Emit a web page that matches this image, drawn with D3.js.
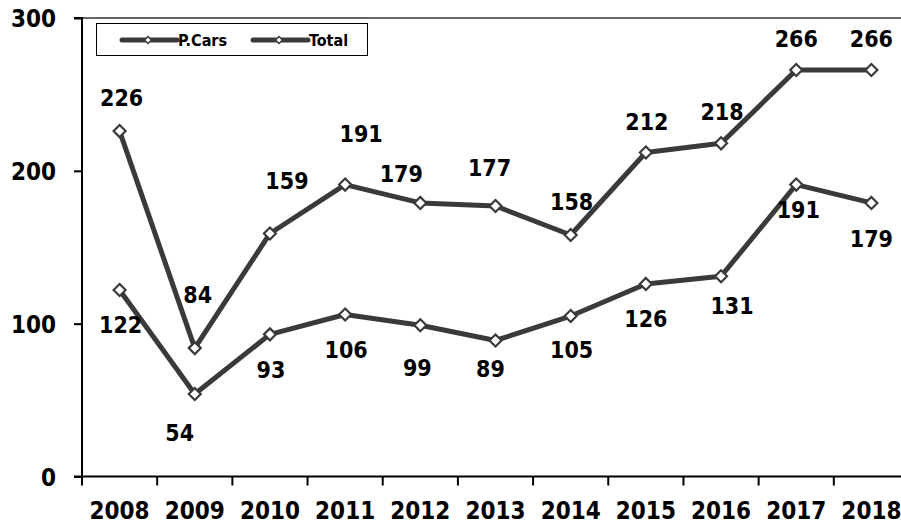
<!DOCTYPE html>
<html>
<head>
<meta charset="utf-8">
<script src="https://cdn.jsdelivr.net/npm/d3@7/dist/d3.min.js"></script>
<style>
  html, body { margin: 0; padding: 0; background: #fff; }
  svg { display: block; }
  text { font-family: "DejaVu Sans Condensed", "DejaVu Sans", sans-serif; font-weight: bold; fill: #000; }
</style>
</head>
<body>
<svg id="chart" width="901" height="525"></svg>
<script>
// ---- data ----
const years = ["2008","2009","2010","2011","2012","2013","2014","2015","2016","2017","2018"];
const pCars = [122, 54, 93, 106, 99, 89, 105, 126, 131, 191, 179];
const total = [226, 84, 159, 191, 179, 177, 158, 212, 218, 266, 266];
const yTicks = [0, 100, 200, 300];
const seriesNames = ["P.Cars", "Total"];

// ---- layout (label offsets relative to points, px) ----
const totalLabelOffsets = [[2,-33],[3,-53],[17,-53],[16,-51],[-19,-29],[-6,-38],[1,-33],[1,-31],[1,-32],[0,-31],[0,-31]];
const pCarsLabelOffsets = [[1,35],[-15,39],[1,35],[1,35],[-3,43],[-5,28],[1,34],[0,35],[11,29],[2,25],[0,36]];

(function () {
const svg = d3.select("#chart");
const mLeft = 82, mRight = 909, mTop = 18, mBottom = 476.5;
const lineColor = "#3a3a3a";

const x = d3.scaleBand().domain(years).range([mLeft, mRight]).paddingInner(0).paddingOuter(0);
const y = d3.scaleLinear().domain([0, 300]).range([mBottom, mTop]);
const cx = d => x(d) + x.bandwidth() / 2;

// top & right frame
svg.append("line").attr("x1", mLeft).attr("x2", mRight).attr("y1", mTop).attr("y2", mTop)
  .attr("stroke", "#333").attr("stroke-width", 1.5);
svg.append("line").attr("x1", mRight).attr("x2", mRight).attr("y1", mTop).attr("y2", mBottom)
  .attr("stroke", "#333").attr("stroke-width", 1.5);

// y axis
const yAxis = d3.axisLeft(y).tickValues(yTicks).tickSize(8).tickPadding(18).tickFormat(d3.format("d"));
const gy = svg.append("g").attr("transform", `translate(${mLeft},0)`).call(yAxis);
gy.select(".domain").attr("stroke", "#000").attr("stroke-width", 2).attr("d", `M-8,${mTop}H0V${mBottom}H-8`);
gy.selectAll(".tick line").attr("stroke", "#000").attr("stroke-width", 2);
gy.selectAll(".tick text").style("font-size", "24px").attr("dy", "0.36em").attr("x", -26);

// x axis
const xAxis = d3.axisBottom(x).tickSize(0).tickPadding(0);
const gx = svg.append("g").attr("transform", `translate(0,${mBottom})`).call(xAxis);
gx.select(".domain").attr("stroke", "#000").attr("stroke-width", 2).attr("d", `M${mLeft},0H${mRight}`);
gx.selectAll(".tick text").style("font-size", "24px").attr("y", 34).attr("dy", "0.36em");
// x tick marks at band boundaries
const bounds = years.map(d => x(d)).concat([mRight]);
svg.append("g").selectAll("line").data(bounds).join("line")
  .attr("x1", d => d).attr("x2", d => d).attr("y1", mBottom).attr("y2", mBottom + 9)
  .attr("stroke", "#000").attr("stroke-width", 2);

// lines
const line = d3.line().x((d, i) => cx(years[i])).y(d => y(d));
const series = [
  { name: "P.Cars", values: pCars, offsets: pCarsLabelOffsets },
  { name: "Total", values: total, offsets: totalLabelOffsets }
];
const diamond = s => `M0,${-s}L${s},0L0,${s}L${-s},0Z`;

series.forEach(s => {
  svg.append("path").datum(s.values).attr("d", line)
    .attr("fill", "none").attr("stroke", lineColor).attr("stroke-width", 5).attr("stroke-linejoin", "round");
  svg.append("g").selectAll("path").data(s.values).join("path")
    .attr("d", diamond(6))
    .attr("transform", (d, i) => `translate(${cx(years[i])},${y(d)})`)
    .attr("fill", "#fff").attr("stroke", lineColor).attr("stroke-width", 2.2);
  svg.append("g").selectAll("text").data(s.values).join("text")
    .attr("x", (d, i) => cx(years[i]) + s.offsets[i][0])
    .attr("y", (d, i) => y(d) + s.offsets[i][1])
    .attr("dy", "0.36em").attr("text-anchor", "middle")
    .style("font-size", "23px").text(d => d);
});

// legend
const lg = svg.append("g");
lg.append("rect").attr("x", 96.5).attr("y", 23.5).attr("width", 271).attr("height", 32)
  .attr("fill", "#fff").attr("stroke", "#000").attr("stroke-width", 1);
const legendItems = [{ name: seriesNames[0], x0: 122 }, { name: seriesNames[1], x0: 253 }];
legendItems.forEach(it => {
  lg.append("line").attr("x1", it.x0).attr("x2", it.x0 + 55).attr("y1", 40).attr("y2", 40)
    .attr("stroke", lineColor).attr("stroke-width", 5).attr("stroke-linecap", "round");
  lg.append("path").attr("d", diamond(3.5)).attr("transform", `translate(${it.x0 + 26},40)`)
    .attr("fill", "#fff").attr("stroke", lineColor).attr("stroke-width", 1.5);
  lg.append("text").attr("x", it.x0 + 56).attr("y", 40).attr("dy", "0.36em")
    .style("font-size", "16px").text(it.name);
});
})();
</script>
</body>
</html>
